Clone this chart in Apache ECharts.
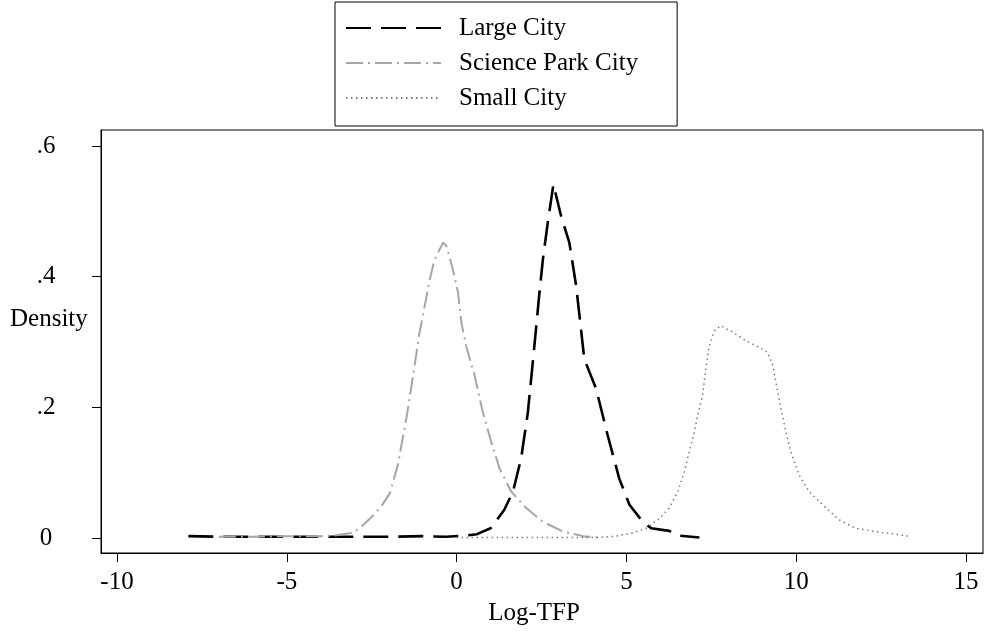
<!DOCTYPE html>
<html>
<head>
<meta charset="utf-8">
<script src="https://cdn.jsdelivr.net/npm/echarts@6/dist/echarts.min.js"></script>
<style>
  html, body { margin: 0; padding: 0; background: #fff; }
  #chart { width: 987px; height: 631px; }
</style>
</head>
<body>
<div id="chart"></div>
<script>
// Kernel density of log-TFP by city type.
var seriesNames = ["Large City", "Science Park City", "Small City"];
var xTicks = [-10, -5, 0, 5, 10, 15];
var yTicks = [0, 0.2, 0.4, 0.6];

var largeX = [-7.9, -7, -6, -5, -4, -3, -2, -1, -0.3, 0.3, 0.6, 1.0, 1.4, 1.66, 1.9, 2.1, 2.29, 2.44, 2.54, 2.69, 2.85,
  3.08, 3.32, 3.52, 3.76, 4.11, 4.45, 4.79, 5.09, 5.48, 5.73, 6.26, 6.51, 7.15];
var largeY = [0.003, 0.002, 0.002, 0.002, 0.002, 0.002, 0.002, 0.003, 0.002, 0.004, 0.006, 0.015, 0.043, 0.071, 0.122, 0.193, 0.294, 0.376, 0.426, 0.485, 0.541,
  0.492, 0.452, 0.386, 0.274, 0.228, 0.157, 0.091, 0.051, 0.025, 0.015, 0.011, 0.004, 0.001];

var parkX = [-7.0, -6, -5, -4, -3.6, -3.05, -2.75, -2.45, -2.2, -1.97, -1.73, -1.48, -1.28, -1.09, -0.94, -0.79, -0.65, -0.40,
  -0.30, -0.11, 0.04, 0.14, 0.28, 0.53, 0.77, 1.02, 1.26, 1.61, 2.05, 2.54, 3.13, 3.72, 4.2];
var parkY = [0.002, 0.002, 0.003, 0.003, 0.004, 0.008, 0.020, 0.035, 0.05, 0.068, 0.112, 0.183, 0.249, 0.315, 0.355, 0.396, 0.426, 0.452,
  0.447, 0.411, 0.376, 0.330, 0.294, 0.249, 0.193, 0.147, 0.107, 0.071, 0.046, 0.025, 0.010, 0.003, 0.001];

var smallX = [0, 1, 2, 3, 4.2, 4.7, 5.19, 5.58, 5.97, 6.26, 6.51, 6.71, 6.85, 7.0, 7.1, 7.24, 7.34, 7.44, 7.59, 7.78,
  8.13, 8.52, 8.91, 9.16, 9.31, 9.40, 9.55, 9.70, 9.84, 10.09, 10.38, 10.78, 11.26, 11.76, 12.34, 13.3];
var smallY = [0.001, 0.001, 0.001, 0.001, 0.001, 0.003, 0.008, 0.015, 0.030, 0.046, 0.071, 0.102, 0.132, 0.162, 0.188, 0.218, 0.259, 0.294, 0.317, 0.325,
  0.315, 0.302, 0.292, 0.284, 0.264, 0.239, 0.198, 0.162, 0.132, 0.096, 0.071, 0.051, 0.028, 0.015, 0.010, 0.003];

function zip(xs, ys) { return xs.map(function (x, i) { return [x, ys[i]]; }); }

var FONT = "'Liberation Serif', 'Times New Roman', serif";
var styles = [
  { color: "#000000", width: 2.6, type: [25, 10] },
  { color: "#a6a6a6", width: 2, type: [17, 5, 2, 5] },
  { color: "#7a7a7a", width: 1.5, type: [1.5, 3.5] }
];
var datasets = [zip(largeX, largeY), zip(parkX, parkY), zip(smallX, smallY)];

var chart = echarts.init(document.getElementById("chart"), null, { renderer: "canvas" });
chart.setOption({
  animation: false,
  backgroundColor: "#fff",
  textStyle: { fontFamily: FONT },
  grid: { left: 101, right: 4, top: 130, bottom: 76, show: true, borderColor: "#000", borderWidth: 1 },
  legend: {
    orient: "vertical", left: 335, top: 2,
    padding: [12, 39, 14, 10],
    itemWidth: 95, itemHeight: 14, itemGap: 7,
    borderColor: "#000", borderWidth: 1,
    itemStyle: { opacity: 0 },
    textStyle: { fontFamily: FONT, fontSize: 25, color: "#000", lineHeight: 28, padding: [0, 0, 0, 13] },
    data: seriesNames
  },
  xAxis: {
    type: "value", min: -10.471, max: 15.5,
    name: "Log-TFP", nameLocation: "middle", nameGap: 48,
    nameTextStyle: { fontFamily: FONT, fontSize: 25, color: "#000", padding: [0, 16, 0, 0] },
    axisLine: { show: true, onZero: false, lineStyle: { color: "#000", width: 1 } },
    axisTick: { show: true, length: 9, customValues: xTicks, lineStyle: { color: "#000" } },
    axisLabel: { customValues: xTicks, margin: 17, fontFamily: FONT, fontSize: 25, color: "#000" },
    splitLine: { show: false }
  },
  yAxis: {
    type: "value", min: -0.0228, max: 0.6244,
    axisLine: { show: true, onZero: false, lineStyle: { color: "#000", width: 1 } },
    axisTick: { show: true, length: 9, customValues: yTicks, lineStyle: { color: "#000" } },
    axisLabel: {
      customValues: yTicks, margin: 55, align: "center",
      fontFamily: FONT, fontSize: 25, color: "#000",
      formatter: function (v) { return v === 0 ? "0" : String(v).replace(/^0\./, "."); }
    },
    splitLine: { show: false }
  },
  graphic: [{
    type: "text", left: 10, top: 307,
    style: { text: "Density", fontFamily: FONT, fontSize: 25, fill: "#000" }
  }],
  series: seriesNames.map(function (name, i) {
    return {
      name: name, type: "line", data: datasets[i],
      symbol: "none", smooth: false,
      lineStyle: styles[i], itemStyle: { color: styles[i].color }
    };
  })
});
</script>
</body>
</html>
